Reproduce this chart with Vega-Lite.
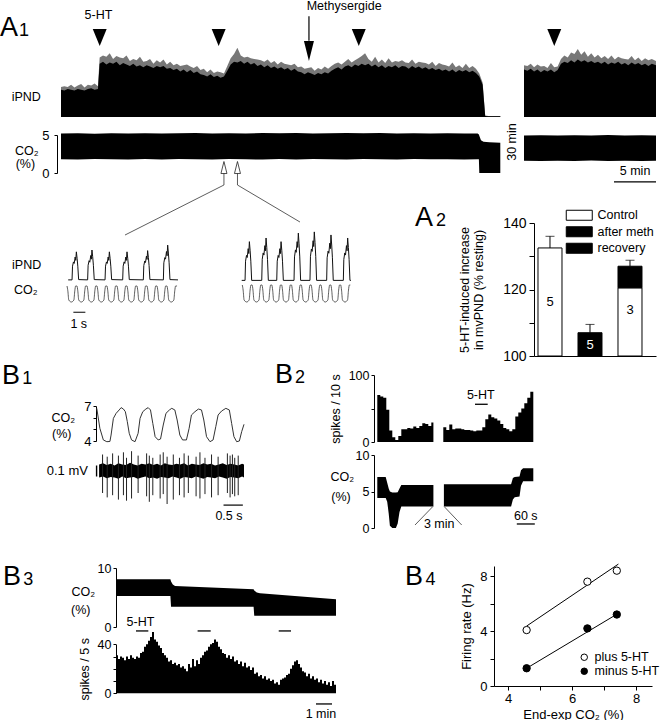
{
"$schema":"https://vega.github.io/schema/vega-lite/v6.json",
"width":660,"height":720,"autosize":{"type":"none"},"padding":0,"background":"white",
"config":{"view":{"stroke":null},"font":"Liberation Sans",
"axis":{"grid":false,"domainColor":"black","tickColor":"black","labelColor":"black","titleColor":"black","labelFont":"Liberation Sans","titleFont":"Liberation Sans","titleFontWeight":"normal","labelFontSize":12.5,"titleFontSize":12.5,"tickSize":4,"labelPadding":3,"domainWidth":1,"tickWidth":1,"labelOverlap":false},
"legend":{"labelFont":"Liberation Sans","labelColor":"black","labelFontSize":12.5},
"text":{"font":"Liberation Sans","fontSize":12.5,"color":"black"}},
"resolve":{"scale":{"x":"independent","y":"independent","fill":"independent"},"axis":{"x":"independent","y":"independent"},"legend":{"fill":"independent"}},
"datasets":{
"ipnd1":[{"t":0,"b":3.9,"v":4.3},{"t":0.4,"b":3.8,"v":4.4},{"t":0.8,"b":4.0,"v":4.3},{"t":1.2,"b":3.9,"v":4.6},{"t":1.6,"b":3.8,"v":4.2},{"t":2.0,"b":4.0,"v":4.5},{"t":2.4,"b":3.9,"v":4.7},{"t":2.8,"b":3.8,"v":4.2},{"t":3.2,"b":4.0,"v":4.6},{"t":3.6,"b":4.1,"v":4.5},{"t":4.0,"b":3.9,"v":4.8},{"t":4.4,"b":4.0,"v":4.4},{"t":4.6,"b":7.6,"v":8.5},{"t":5.0,"b":7.9,"v":8.8},{"t":5.4,"b":7.5,"v":8.6},{"t":5.8,"b":7.8,"v":9.1},{"t":6.2,"b":7.6,"v":8.3},{"t":6.6,"b":7.9,"v":8.7},{"t":7.0,"b":7.4,"v":8.5},{"t":7.4,"b":7.7,"v":8.4},{"t":7.8,"b":7.5,"v":8.8},{"t":8.2,"b":7.3,"v":8.0},{"t":8.6,"b":7.6,"v":8.3},{"t":9.0,"b":7.2,"v":8.1},{"t":9.4,"b":7.4,"v":8.6},{"t":9.8,"b":7.1,"v":7.9},{"t":10.2,"b":7.4,"v":8.0},{"t":10.6,"b":7.2,"v":8.3},{"t":11.0,"b":7.0,"v":7.6},{"t":11.4,"b":7.3,"v":8.1},{"t":11.8,"b":7.1,"v":7.8},{"t":12.2,"b":7.3,"v":8.2},{"t":12.6,"b":6.9,"v":7.5},{"t":13.0,"b":7.0,"v":7.9},{"t":13.4,"b":6.7,"v":7.4},{"t":13.8,"b":6.9,"v":7.6},{"t":14.2,"b":6.5,"v":7.3},{"t":14.6,"b":6.8,"v":7.4},{"t":15.0,"b":6.4,"v":7.5},{"t":15.4,"b":6.7,"v":7.2},{"t":15.8,"b":6.3,"v":7.0},{"t":16.2,"b":6.5,"v":7.3},{"t":16.6,"b":6.1,"v":6.7},{"t":17.0,"b":6.0,"v":6.9},{"t":17.4,"b":5.8,"v":6.4},{"t":17.8,"b":6.1,"v":6.8},{"t":18.2,"b":5.7,"v":6.3},{"t":18.6,"b":5.9,"v":6.5},{"t":19.0,"b":5.6,"v":6.4},{"t":19.4,"b":5.8,"v":6.2},{"t":19.8,"b":6.6,"v":7.3},{"t":20.2,"b":7.5,"v":8.4},{"t":20.6,"b":7.9,"v":9.0},{"t":21.0,"b":7.8,"v":9.9},{"t":21.4,"b":8.0,"v":8.8},{"t":21.8,"b":7.6,"v":8.5},{"t":22.2,"b":7.9,"v":8.6},{"t":22.6,"b":7.5,"v":8.4},{"t":23.0,"b":7.7,"v":8.3},{"t":23.4,"b":7.3,"v":8.2},{"t":23.8,"b":7.5,"v":8.1},{"t":24.2,"b":7.1,"v":7.9},{"t":24.6,"b":7.4,"v":8.2},{"t":25.0,"b":7.0,"v":7.7},{"t":25.4,"b":7.2,"v":8.0},{"t":25.8,"b":6.9,"v":7.5},{"t":26.2,"b":7.1,"v":7.9},{"t":26.6,"b":6.8,"v":7.6},{"t":27.0,"b":7.0,"v":7.5},{"t":27.4,"b":6.6,"v":7.4},{"t":27.8,"b":6.9,"v":7.6},{"t":28.2,"b":6.5,"v":7.1},{"t":28.6,"b":6.4,"v":7.2},{"t":29.0,"b":6.1,"v":6.9},{"t":29.4,"b":6.4,"v":7.0},{"t":29.8,"b":6.2,"v":7.1},{"t":30.2,"b":6.0,"v":6.6},{"t":30.6,"b":6.3,"v":7.0},{"t":31.0,"b":6.1,"v":6.8},{"t":31.4,"b":6.4,"v":7.2},{"t":31.8,"b":6.2,"v":6.9},{"t":32.2,"b":6.6,"v":7.3},{"t":32.6,"b":6.9,"v":7.6},{"t":33.0,"b":7.1,"v":7.8},{"t":33.4,"b":6.8,"v":7.5},{"t":33.8,"b":7.2,"v":7.9},{"t":34.2,"b":7.4,"v":8.3},{"t":34.6,"b":7.1,"v":7.8},{"t":35.0,"b":7.5,"v":8.1},{"t":35.4,"b":7.3,"v":8.4},{"t":35.8,"b":7.6,"v":8.7},{"t":36.2,"b":7.4,"v":9.1},{"t":36.6,"b":7.6,"v":8.3},{"t":37.0,"b":7.2,"v":7.9},{"t":37.4,"b":7.5,"v":8.6},{"t":37.8,"b":7.1,"v":7.8},{"t":38.2,"b":7.4,"v":8.2},{"t":38.6,"b":7.0,"v":7.7},{"t":39.0,"b":7.3,"v":8.4},{"t":39.4,"b":7.1,"v":7.8},{"t":39.8,"b":7.4,"v":8.0},{"t":40.2,"b":7.0,"v":7.9},{"t":40.6,"b":7.3,"v":8.1},{"t":41.0,"b":7.2,"v":7.8},{"t":41.4,"b":6.9,"v":7.7},{"t":41.8,"b":7.3,"v":8.2},{"t":42.2,"b":7.0,"v":7.6},{"t":42.6,"b":7.2,"v":7.9},{"t":43.0,"b":6.9,"v":7.8},{"t":43.4,"b":7.1,"v":7.7},{"t":43.8,"b":6.8,"v":7.5},{"t":44.2,"b":7.0,"v":7.9},{"t":44.6,"b":6.7,"v":7.3},{"t":45.0,"b":6.9,"v":7.7},{"t":45.4,"b":6.6,"v":7.5},{"t":45.8,"b":6.8,"v":7.4},{"t":46.2,"b":6.5,"v":7.2},{"t":46.6,"b":6.8,"v":7.8},{"t":47.0,"b":6.4,"v":7.1},{"t":47.4,"b":6.7,"v":7.4},{"t":47.8,"b":6.5,"v":7.0},{"t":48.2,"b":6.7,"v":7.6},{"t":48.6,"b":6.4,"v":7.0},{"t":49.0,"b":6.6,"v":7.3},{"t":49.4,"b":6.3,"v":6.9},{"t":49.8,"b":5.8,"v":6.2},{"t":50.2,"b":4.6,"v":4.9},{"t":50.5,"b":0.15,"v":0.2},{"t":50.9,"b":0.12,"v":0.15},{"t":51.6,"b":0.12,"v":0.15},{"t":52.3,"b":0.12,"v":0.15}],
"co2a":[{"t":0,"w":1.82,"v":5.2},{"t":2,"w":1.78,"v":5.22},{"t":4,"w":1.84,"v":5.18},{"t":6,"w":1.8,"v":5.23},{"t":8,"w":1.76,"v":5.2},{"t":10,"w":1.83,"v":5.24},{"t":12,"w":1.79,"v":5.19},{"t":14,"w":1.85,"v":5.22},{"t":16,"w":1.8,"v":5.25},{"t":18,"w":1.77,"v":5.2},{"t":20,"w":1.84,"v":5.24},{"t":22,"w":1.8,"v":5.21},{"t":24,"w":1.78,"v":5.26},{"t":26,"w":1.83,"v":5.22},{"t":28,"w":1.79,"v":5.25},{"t":30,"w":1.84,"v":5.2},{"t":32,"w":1.8,"v":5.23},{"t":34,"w":1.77,"v":5.26},{"t":36,"w":1.83,"v":5.22},{"t":38,"w":1.8,"v":5.25},{"t":40,"w":1.78,"v":5.21},{"t":42,"w":1.84,"v":5.24},{"t":44,"w":1.8,"v":5.2},{"t":46,"w":1.82,"v":5.23},{"t":48,"w":1.79,"v":5.19},{"t":49.6,"w":1.82,"v":5.2},{"t":49.75,"w":1.8,"v":5.05},{"t":49.8,"w":0,"v":4.9},{"t":50.0,"w":0,"v":4.3},{"t":50.3,"w":0,"v":4.12},{"t":51,"w":0,"v":4.05},{"t":52.3,"w":0,"v":3.98}],
"ipnd2":[{"t":0,"b":6.8,"v":7.4},{"t":0.4,"b":6.6,"v":7.3},{"t":0.8,"b":6.9,"v":7.6},{"t":1.2,"b":6.5,"v":7.1},{"t":1.6,"b":6.8,"v":7.5},{"t":2.0,"b":6.4,"v":7.2},{"t":2.4,"b":6.7,"v":7.3},{"t":2.8,"b":6.5,"v":7.0},{"t":3.2,"b":6.8,"v":7.7},{"t":3.6,"b":6.4,"v":7.1},{"t":4.0,"b":6.7,"v":7.2},{"t":4.4,"b":7.6,"v":8.3},{"t":4.8,"b":7.9,"v":8.8},{"t":5.2,"b":7.7,"v":8.5},{"t":5.6,"b":8.1,"v":9.2},{"t":6.0,"b":7.8,"v":9.0},{"t":6.4,"b":8.2,"v":9.7},{"t":6.8,"b":7.9,"v":8.9},{"t":7.2,"b":8.1,"v":9.4},{"t":7.6,"b":7.8,"v":8.6},{"t":8.0,"b":8.0,"v":9.1},{"t":8.4,"b":7.7,"v":8.5},{"t":8.8,"b":7.9,"v":8.9},{"t":9.2,"b":7.6,"v":8.4},{"t":9.6,"b":7.9,"v":8.7},{"t":10.0,"b":7.5,"v":8.3},{"t":10.4,"b":7.8,"v":8.8},{"t":10.8,"b":7.6,"v":8.2},{"t":11.2,"b":7.9,"v":8.6},{"t":11.6,"b":7.5,"v":8.4},{"t":12.0,"b":7.7,"v":8.3},{"t":12.4,"b":7.4,"v":8.2},{"t":12.8,"b":7.8,"v":8.7},{"t":13.2,"b":7.5,"v":8.1},{"t":13.6,"b":7.7,"v":8.5},{"t":14.0,"b":7.4,"v":8.0},{"t":14.4,"b":7.6,"v":8.4},{"t":14.8,"b":7.3,"v":8.1},{"t":15.2,"b":7.6,"v":8.3},{"t":15.7,"b":7.4,"v":8.0}],
"co2b":[{"t":0,"w":1.6,"v":4.95},{"t":2,"w":1.57,"v":4.98},{"t":4,"w":1.62,"v":4.93},{"t":6,"w":1.58,"v":4.97},{"t":8,"w":1.63,"v":4.95},{"t":10,"w":1.59,"v":4.99},{"t":12,"w":1.61,"v":4.94},{"t":14,"w":1.57,"v":4.97},{"t":15.7,"w":1.6,"v":4.95}],
"in1p":[{"t":0.1,"v":0.02},{"t":0.42,"v":0.02},{"t":0.46,"v":0.47},{"t":0.54,"v":0.61},{"t":0.6,"v":0.56},{"t":0.68,"v":0.77},{"t":0.73,"v":0.66},{"t":0.78,"v":0.94},{"t":0.84,"v":0.73},{"t":0.9,"v":0.47},{"t":0.97,"v":0.03},{"t":1.72,"v":0.02},{"t":1.76,"v":0.5},{"t":1.84,"v":0.65},{"t":1.9,"v":0.6},{"t":1.98,"v":0.82},{"t":2.03,"v":0.7},{"t":2.08,"v":1.0},{"t":2.14,"v":0.78},{"t":2.2,"v":0.5},{"t":2.27,"v":0.03},{"t":3.17,"v":0.02},{"t":3.21,"v":0.47},{"t":3.29,"v":0.61},{"t":3.35,"v":0.56},{"t":3.43,"v":0.77},{"t":3.48,"v":0.66},{"t":3.53,"v":0.94},{"t":3.59,"v":0.73},{"t":3.65,"v":0.47},{"t":3.72,"v":0.03},{"t":4.64,"v":0.02},{"t":4.68,"v":0.47},{"t":4.76,"v":0.61},{"t":4.82,"v":0.56},{"t":4.9,"v":0.77},{"t":4.95,"v":0.66},{"t":5.0,"v":0.94},{"t":5.06,"v":0.73},{"t":5.12,"v":0.47},{"t":5.19,"v":0.03},{"t":6.36,"v":0.02},{"t":6.4,"v":0.49},{"t":6.48,"v":0.64},{"t":6.54,"v":0.59},{"t":6.62,"v":0.8},{"t":6.67,"v":0.69},{"t":6.72,"v":0.98},{"t":6.78,"v":0.76},{"t":6.84,"v":0.49},{"t":6.91,"v":0.03},{"t":8.03,"v":0.02},{"t":8.07,"v":0.58},{"t":8.15,"v":0.75},{"t":8.21,"v":0.7},{"t":8.29,"v":0.95},{"t":8.34,"v":0.81},{"t":8.39,"v":1.16},{"t":8.45,"v":0.9},{"t":8.51,"v":0.58},{"t":8.58,"v":0.03},{"t":9.25,"v":0.02}],
"in1c":[{"t":0,"v":1},{"t":0.07,"v":0.7},{"t":0.15,"v":0.12},{"t":0.36,"v":0},{"t":0.57,"v":0.12},{"t":0.65,"v":0.7},{"t":0.72,"v":1},{"t":0.83,"v":1},{"t":0.9,"v":0.7},{"t":0.98,"v":0.12},{"t":1.19,"v":0},{"t":1.4,"v":0.12},{"t":1.48,"v":0.7},{"t":1.55,"v":1},{"t":1.67,"v":1},{"t":1.74,"v":0.7},{"t":1.82,"v":0.12},{"t":2.03,"v":0},{"t":2.24,"v":0.12},{"t":2.32,"v":0.7},{"t":2.39,"v":1},{"t":2.5,"v":1},{"t":2.57,"v":0.7},{"t":2.65,"v":0.12},{"t":2.86,"v":0},{"t":3.07,"v":0.12},{"t":3.15,"v":0.7},{"t":3.22,"v":1},{"t":3.33,"v":1},{"t":3.4,"v":0.7},{"t":3.48,"v":0.12},{"t":3.69,"v":0},{"t":3.9,"v":0.12},{"t":3.98,"v":0.7},{"t":4.05,"v":1},{"t":4.17,"v":1},{"t":4.24,"v":0.7},{"t":4.32,"v":0.12},{"t":4.53,"v":0},{"t":4.74,"v":0.12},{"t":4.82,"v":0.7},{"t":4.89,"v":1},{"t":5.0,"v":1},{"t":5.07,"v":0.7},{"t":5.15,"v":0.12},{"t":5.36,"v":0},{"t":5.57,"v":0.12},{"t":5.65,"v":0.7},{"t":5.72,"v":1},{"t":5.83,"v":1},{"t":5.9,"v":0.7},{"t":5.98,"v":0.12},{"t":6.19,"v":0},{"t":6.4,"v":0.12},{"t":6.48,"v":0.7},{"t":6.55,"v":1},{"t":6.67,"v":1},{"t":6.74,"v":0.7},{"t":6.82,"v":0.12},{"t":7.03,"v":0},{"t":7.24,"v":0.12},{"t":7.32,"v":0.7},{"t":7.39,"v":1},{"t":7.5,"v":1},{"t":7.57,"v":0.7},{"t":7.65,"v":0.12},{"t":7.86,"v":0},{"t":8.07,"v":0.12},{"t":8.15,"v":0.7},{"t":8.22,"v":1},{"t":8.33,"v":1},{"t":8.4,"v":0.7},{"t":8.48,"v":0.12},{"t":8.69,"v":0},{"t":8.9,"v":0.12},{"t":8.98,"v":0.7},{"t":9.05,"v":1},{"t":9.17,"v":1}],
"in2p":[{"t":0,"v":0.02},{"t":0.28,"v":0.02},{"t":0.32,"v":0.65},{"t":0.4,"v":0.84},{"t":0.46,"v":0.77},{"t":0.54,"v":1.06},{"t":0.59,"v":0.9},{"t":0.64,"v":1.29},{"t":0.7,"v":1.01},{"t":0.76,"v":0.65},{"t":0.83,"v":0.02},{"t":1.67,"v":0.02},{"t":1.71,"v":0.71},{"t":1.79,"v":0.92},{"t":1.85,"v":0.85},{"t":1.93,"v":1.16},{"t":1.98,"v":0.99},{"t":2.03,"v":1.41},{"t":2.09,"v":1.1},{"t":2.15,"v":0.71},{"t":2.22,"v":0.02},{"t":2.92,"v":0.02},{"t":2.96,"v":0.65},{"t":3.04,"v":0.84},{"t":3.1,"v":0.77},{"t":3.18,"v":1.06},{"t":3.23,"v":0.9},{"t":3.28,"v":1.29},{"t":3.34,"v":1.01},{"t":3.4,"v":0.65},{"t":3.47,"v":0.02},{"t":4.36,"v":0.02},{"t":4.4,"v":0.79},{"t":4.48,"v":1.02},{"t":4.54,"v":0.94},{"t":4.62,"v":1.29},{"t":4.67,"v":1.1},{"t":4.72,"v":1.57},{"t":4.78,"v":1.22},{"t":4.84,"v":0.79},{"t":4.91,"v":0.02},{"t":5.69,"v":0.02},{"t":5.73,"v":0.81},{"t":5.81,"v":1.05},{"t":5.87,"v":0.97},{"t":5.95,"v":1.32},{"t":6.0,"v":1.13},{"t":6.05,"v":1.61},{"t":6.11,"v":1.26},{"t":6.17,"v":0.81},{"t":6.24,"v":0.02},{"t":7.08,"v":0.02},{"t":7.12,"v":0.76},{"t":7.2,"v":0.98},{"t":7.26,"v":0.91},{"t":7.34,"v":1.24},{"t":7.39,"v":1.06},{"t":7.44,"v":1.51},{"t":7.5,"v":1.18},{"t":7.56,"v":0.76},{"t":7.63,"v":0.02},{"t":8.47,"v":0.02},{"t":8.51,"v":0.71},{"t":8.59,"v":0.92},{"t":8.65,"v":0.85},{"t":8.73,"v":1.16},{"t":8.78,"v":0.99},{"t":8.83,"v":1.41},{"t":8.89,"v":1.1},{"t":8.95,"v":0.71},{"t":9.02,"v":0.02},{"t":9.1,"v":0.02}],
"in2c":[{"t":0.05,"v":1},{"t":0.12,"v":0.7},{"t":0.2,"v":0.12},{"t":0.41,"v":0},{"t":0.62,"v":0.12},{"t":0.7,"v":0.7},{"t":0.77,"v":1},{"t":0.87,"v":1},{"t":0.94,"v":0.7},{"t":1.02,"v":0.12},{"t":1.23,"v":0},{"t":1.44,"v":0.12},{"t":1.52,"v":0.7},{"t":1.59,"v":1},{"t":1.69,"v":1},{"t":1.76,"v":0.7},{"t":1.84,"v":0.12},{"t":2.05,"v":0},{"t":2.26,"v":0.12},{"t":2.34,"v":0.7},{"t":2.41,"v":1},{"t":2.51,"v":1},{"t":2.58,"v":0.7},{"t":2.66,"v":0.12},{"t":2.87,"v":0},{"t":3.08,"v":0.12},{"t":3.16,"v":0.7},{"t":3.23,"v":1},{"t":3.33,"v":1},{"t":3.4,"v":0.7},{"t":3.48,"v":0.12},{"t":3.69,"v":0},{"t":3.9,"v":0.12},{"t":3.98,"v":0.7},{"t":4.05,"v":1},{"t":4.15,"v":1},{"t":4.22,"v":0.7},{"t":4.3,"v":0.12},{"t":4.51,"v":0},{"t":4.72,"v":0.12},{"t":4.8,"v":0.7},{"t":4.87,"v":1},{"t":4.97,"v":1},{"t":5.04,"v":0.7},{"t":5.12,"v":0.12},{"t":5.33,"v":0},{"t":5.54,"v":0.12},{"t":5.62,"v":0.7},{"t":5.69,"v":1},{"t":5.79,"v":1},{"t":5.86,"v":0.7},{"t":5.94,"v":0.12},{"t":6.15,"v":0},{"t":6.36,"v":0.12},{"t":6.44,"v":0.7},{"t":6.51,"v":1},{"t":6.61,"v":1},{"t":6.68,"v":0.7},{"t":6.76,"v":0.12},{"t":6.97,"v":0},{"t":7.18,"v":0.12},{"t":7.26,"v":0.7},{"t":7.33,"v":1},{"t":7.43,"v":1},{"t":7.5,"v":0.7},{"t":7.58,"v":0.12},{"t":7.79,"v":0},{"t":8.0,"v":0.12},{"t":8.08,"v":0.7},{"t":8.15,"v":1},{"t":8.25,"v":1},{"t":8.32,"v":0.7},{"t":8.4,"v":0.12},{"t":8.61,"v":0},{"t":8.82,"v":0.12},{"t":8.9,"v":0.7},{"t":8.97,"v":1},{"t":9.05,"v":1}],
"a2bars":[{"c":"Control","s":"Control","w":100,"v":132.5},{"c":"after meth","s":"after meth","w":100,"v":107},{"c":"recovery","s":"Control","w":100,"v":120.5},{"c":"recovery","s":"recovery","w":120.5,"v":127}],
"a2err":[{"c":"Control","v":132.5,"e":136},{"c":"after meth","v":107,"e":109.5},{"c":"recovery","v":127,"e":128.8}],
"b1co2":[{"t":0.02,"v":6.8},{"t":0.1,"v":5.09},{"t":0.19,"v":4.09},{"t":0.28,"v":3.94},{"t":0.36,"v":3.96},{"t":0.39,"v":4.51},{"t":0.45,"v":5.94},{"t":0.52,"v":6.37},{"t":0.6,"v":6.66},{"t":0.65,"v":6.86},{"t":0.71,"v":6.74},{"t":0.76,"v":6.51},{"t":0.81,"v":5.66},{"t":0.86,"v":4.66},{"t":0.92,"v":4.09},{"t":1.01,"v":3.94},{"t":1.09,"v":4.66},{"t":1.14,"v":5.94},{"t":1.21,"v":6.51},{"t":1.29,"v":6.74},{"t":1.35,"v":6.86},{"t":1.41,"v":6.66},{"t":1.47,"v":5.51},{"t":1.53,"v":4.37},{"t":1.61,"v":4.09},{"t":1.67,"v":4.17},{"t":1.74,"v":5.37},{"t":1.81,"v":6.37},{"t":1.9,"v":6.66},{"t":1.96,"v":6.8},{"t":2.04,"v":6.66},{"t":2.1,"v":5.8},{"t":2.17,"v":4.51},{"t":2.24,"v":4.09},{"t":2.34,"v":4.09},{"t":2.41,"v":5.09},{"t":2.47,"v":6.23},{"t":2.56,"v":6.51},{"t":2.65,"v":6.74},{"t":2.73,"v":6.66},{"t":2.79,"v":5.8},{"t":2.86,"v":4.37},{"t":2.95,"v":3.94},{"t":3.03,"v":4.09},{"t":3.1,"v":5.23},{"t":3.16,"v":6.23},{"t":3.25,"v":6.57},{"t":3.36,"v":6.8},{"t":3.45,"v":6.66},{"t":3.51,"v":5.51},{"t":3.57,"v":4.37},{"t":3.64,"v":3.94},{"t":3.71,"v":4.0},{"t":3.77,"v":4.8},{"t":3.83,"v":5.43}],
"b1band":[{"t":0.08,"v":0.06,"w":-0.06},{"t":0.18,"v":0.07,"w":-0.05},{"t":0.28,"v":0.055,"w":-0.065},{"t":0.38,"v":0.065,"w":-0.055},{"t":0.48,"v":0.05,"w":-0.06},{"t":0.58,"v":0.07,"w":-0.07},{"t":0.68,"v":0.06,"w":-0.05},{"t":0.78,"v":0.055,"w":-0.065},{"t":0.88,"v":0.075,"w":-0.06},{"t":0.98,"v":0.06,"w":-0.055},{"t":1.08,"v":0.05,"w":-0.07},{"t":1.18,"v":0.065,"w":-0.06},{"t":1.28,"v":0.06,"w":-0.05},{"t":1.38,"v":0.07,"w":-0.065},{"t":1.48,"v":0.055,"w":-0.06},{"t":1.58,"v":0.065,"w":-0.07},{"t":1.68,"v":0.05,"w":-0.055},{"t":1.78,"v":0.07,"w":-0.06},{"t":1.88,"v":0.06,"w":-0.065},{"t":1.98,"v":0.055,"w":-0.05},{"t":2.08,"v":0.065,"w":-0.06},{"t":2.18,"v":0.06,"w":-0.07},{"t":2.28,"v":0.07,"w":-0.055},{"t":2.38,"v":0.05,"w":-0.06},{"t":2.48,"v":0.065,"w":-0.065},{"t":2.58,"v":0.06,"w":-0.05},{"t":2.68,"v":0.055,"w":-0.06},{"t":2.78,"v":0.07,"w":-0.07},{"t":2.88,"v":0.06,"w":-0.055},{"t":2.98,"v":0.065,"w":-0.06},{"t":3.08,"v":0.05,"w":-0.065},{"t":3.18,"v":0.06,"w":-0.05},{"t":3.28,"v":0.07,"w":-0.06},{"t":3.38,"v":0.055,"w":-0.07},{"t":3.48,"v":0.065,"w":-0.055},{"t":3.58,"v":0.06,"w":-0.06},{"t":3.68,"v":0.05,"w":-0.065},{"t":3.78,"v":0.065,"w":-0.05},{"t":3.83,"v":0.06,"w":-0.06}],
"b1spk":[{"t":0.17,"v":0.15,"w":-0.2},{"t":0.29,"v":0.13,"w":-0.24},{"t":0.43,"v":0.16,"w":-0.22},{"t":0.58,"v":0.14,"w":-0.26},{"t":0.71,"v":0.17,"w":-0.22},{"t":0.79,"v":0.12,"w":-0.27},{"t":0.92,"v":0.18,"w":-0.25},{"t":1.09,"v":0.14,"w":-0.2},{"t":1.31,"v":0.16,"w":-0.23},{"t":1.38,"v":0.14,"w":-0.28},{"t":1.47,"v":0.12,"w":-0.22},{"t":1.66,"v":0.15,"w":-0.25},{"t":1.74,"v":0.17,"w":-0.21},{"t":1.84,"v":0.13,"w":-0.3},{"t":2.0,"v":0.15,"w":-0.26},{"t":2.16,"v":0.12,"w":-0.22},{"t":2.28,"v":0.16,"w":-0.24},{"t":2.39,"v":0.14,"w":-0.2},{"t":2.59,"v":0.13,"w":-0.23},{"t":2.69,"v":0.17,"w":-0.25},{"t":2.82,"v":0.12,"w":-0.21},{"t":2.99,"v":0.15,"w":-0.24},{"t":3.16,"v":0.13,"w":-0.22},{"t":3.4,"v":0.16,"w":-0.2},{"t":3.47,"v":0.14,"w":-0.24},{"t":3.53,"v":0.15,"w":-0.21},{"t":3.59,"v":0.12,"w":-0.23},{"t":3.68,"v":0.14,"w":-0.22}],
"b2spk":[{"g":1,"t":0,"v":70},{"g":1,"t":10,"v":68},{"g":1,"t":20,"v":66},{"g":1,"t":30,"v":48},{"g":1,"t":40,"v":17},{"g":1,"t":50,"v":7},{"g":1,"t":60,"v":3},{"g":1,"t":70,"v":9},{"g":1,"t":80,"v":19},{"g":1,"t":90,"v":19},{"g":1,"t":100,"v":21},{"g":1,"t":110,"v":20},{"g":1,"t":120,"v":23},{"g":1,"t":130,"v":21},{"g":1,"t":140,"v":24},{"g":1,"t":150,"v":28},{"g":1,"t":160,"v":27},{"g":1,"t":170,"v":24},{"g":1,"t":180,"v":29},{"g":1,"t":187,"v":29},{"g":2,"t":220,"v":22},{"g":2,"t":230,"v":18},{"g":2,"t":240,"v":26},{"g":2,"t":250,"v":19},{"g":2,"t":260,"v":20},{"g":2,"t":270,"v":20},{"g":2,"t":280,"v":19},{"g":2,"t":290,"v":18},{"g":2,"t":300,"v":18},{"g":2,"t":310,"v":17},{"g":2,"t":320,"v":16},{"g":2,"t":330,"v":17},{"g":2,"t":340,"v":17},{"g":2,"t":350,"v":22},{"g":2,"t":360,"v":34},{"g":2,"t":370,"v":41},{"g":2,"t":380,"v":37},{"g":2,"t":390,"v":35},{"g":2,"t":400,"v":32},{"g":2,"t":410,"v":27},{"g":2,"t":420,"v":21},{"g":2,"t":430,"v":19},{"g":2,"t":440,"v":16},{"g":2,"t":450,"v":19},{"g":2,"t":460,"v":38},{"g":2,"t":470,"v":44},{"g":2,"t":480,"v":50},{"g":2,"t":490,"v":58},{"g":2,"t":500,"v":66},{"g":2,"t":510,"v":75},{"g":2,"t":520,"v":75}],
"b2co2":[{"g":1,"t":0,"w":4.1,"v":7.0},{"g":1,"t":28,"w":4.1,"v":7.0},{"g":1,"t":33,"w":3.6,"v":6.2},{"g":1,"t":38,"w":2.0,"v":5.4},{"g":1,"t":42,"w":0.3,"v":5.0},{"g":1,"t":50,"w":0,"v":4.85},{"g":1,"t":62,"w":0,"v":4.85},{"g":1,"t":68,"w":0.6,"v":4.9},{"g":1,"t":74,"w":2.2,"v":5.4},{"g":1,"t":80,"w":2.95,"v":5.9},{"g":1,"t":187,"w":2.95,"v":5.9},{"g":2,"t":222,"w":2.95,"v":6.0},{"g":2,"t":446,"w":2.95,"v":6.0},{"g":2,"t":452,"w":3.9,"v":6.85},{"g":2,"t":458,"w":4.2,"v":7.0},{"g":2,"t":474,"w":4.3,"v":7.05},{"g":2,"t":479,"w":5.8,"v":7.9},{"g":2,"t":486,"w":6.4,"v":8.2},{"g":2,"t":520,"w":6.4,"v":8.2}],
"b3co2":[{"t":0,"w":5.25,"v":8.08},{"t":3.4,"w":5.25,"v":8.08},{"t":3.44,"w":3.44,"v":7.7},{"t":3.55,"w":3.44,"v":7.2},{"t":3.69,"w":3.44,"v":6.95},{"t":8.6,"w":3.44,"v":6.39},{"t":8.64,"w":1.92,"v":6.2},{"t":8.8,"w":1.92,"v":5.85},{"t":9.0,"w":1.92,"v":5.7},{"t":13.75,"w":1.92,"v":4.7}],
"b3spk":[{"t":0,"v":31},{"t":0.125,"v":28},{"t":0.25,"v":30},{"t":0.375,"v":29},{"t":0.5,"v":27},{"t":0.625,"v":30},{"t":0.75,"v":28},{"t":0.875,"v":31},{"t":1.0,"v":29},{"t":1.125,"v":28},{"t":1.25,"v":30},{"t":1.375,"v":29},{"t":1.5,"v":33},{"t":1.625,"v":34},{"t":1.75,"v":38},{"t":1.875,"v":40},{"t":2.0,"v":43},{"t":2.125,"v":46},{"t":2.25,"v":50},{"t":2.375,"v":44},{"t":2.5,"v":42},{"t":2.625,"v":39},{"t":2.75,"v":37},{"t":2.875,"v":33},{"t":3.0,"v":31},{"t":3.125,"v":29},{"t":3.25,"v":26},{"t":3.375,"v":27},{"t":3.5,"v":24},{"t":3.625,"v":25},{"t":3.75,"v":23},{"t":3.875,"v":24},{"t":4.0,"v":21},{"t":4.125,"v":22},{"t":4.25,"v":20},{"t":4.375,"v":18},{"t":4.5,"v":24},{"t":4.625,"v":21},{"t":4.75,"v":28},{"t":4.875,"v":22},{"t":5.0,"v":27},{"t":5.125,"v":24},{"t":5.25,"v":29},{"t":5.375,"v":31},{"t":5.5,"v":34},{"t":5.625,"v":35},{"t":5.75,"v":38},{"t":5.875,"v":40},{"t":6.0,"v":41},{"t":6.125,"v":44},{"t":6.25,"v":42},{"t":6.375,"v":38},{"t":6.5,"v":36},{"t":6.625,"v":33},{"t":6.75,"v":32},{"t":6.875,"v":29},{"t":7.0,"v":31},{"t":7.125,"v":28},{"t":7.25,"v":30},{"t":7.375,"v":26},{"t":7.5,"v":27},{"t":7.625,"v":24},{"t":7.75,"v":26},{"t":7.875,"v":22},{"t":8.0,"v":25},{"t":8.125,"v":21},{"t":8.25,"v":22},{"t":8.375,"v":19},{"t":8.5,"v":21},{"t":8.625,"v":16},{"t":8.75,"v":17},{"t":8.875,"v":14},{"t":9.0,"v":15},{"t":9.125,"v":12},{"t":9.25,"v":14},{"t":9.375,"v":11},{"t":9.5,"v":12},{"t":9.625,"v":10},{"t":9.75,"v":11},{"t":9.875,"v":8},{"t":10.0,"v":9},{"t":10.125,"v":7},{"t":10.25,"v":11},{"t":10.375,"v":12},{"t":10.5,"v":13},{"t":10.625,"v":15},{"t":10.75,"v":16},{"t":10.875,"v":20},{"t":11.0,"v":23},{"t":11.125,"v":26},{"t":11.25,"v":27},{"t":11.375,"v":24},{"t":11.5,"v":21},{"t":11.625,"v":18},{"t":11.75,"v":17},{"t":11.875,"v":14},{"t":12.0,"v":16},{"t":12.125,"v":12},{"t":12.25,"v":14},{"t":12.375,"v":11},{"t":12.5,"v":12},{"t":12.625,"v":9},{"t":12.75,"v":11},{"t":12.875,"v":8},{"t":13.0,"v":10},{"t":13.125,"v":7},{"t":13.25,"v":9},{"t":13.375,"v":6},{"t":13.5,"v":10},{"t":13.625,"v":7},{"t":13.75,"v":7}],
"b4pts":[{"s":"plus 5-HT","t":4.58,"v":4.07},{"s":"plus 5-HT","t":6.48,"v":7.59},{"s":"plus 5-HT","t":7.4,"v":8.39},{"s":"minus 5-HT","t":4.58,"v":1.29},{"s":"minus 5-HT","t":6.48,"v":4.19},{"s":"minus 5-HT","t":7.4,"v":5.2}],
"b4fit":[{"s":"plus 5-HT","t":4.58,"v":4.36},{"s":"plus 5-HT","t":7.45,"v":8.87},{"s":"minus 5-HT","t":4.58,"v":1.29},{"s":"minus 5-HT","t":7.45,"v":5.29}]
},
"layer":[
{"data":{"name":"ipnd1"},
 "encoding":{"x":{"field":"t","type":"quantitative","scale":{"domain":[0,52.3],"range":[61,500.3],"nice":false,"zero":false},"axis":null},
  "y":{"field":"v","type":"quantitative","scale":{"domain":[0,10],"range":[117,47],"nice":false,"zero":false},"axis":null}},
 "layer":[
  {"mark":{"type":"area","color":"#777777"},"encoding":{"y2":{"datum":0}}},
  {"mark":{"type":"area","color":"black"},"encoding":{"y":{"field":"b","type":"quantitative","axis":null},"y2":{"datum":0}}},
  {"data":{"values":[{"t":4.61,"v":11.36},{"t":18.77,"v":11.36},{"t":35.45,"v":11.36}]},"mark":{"type":"point","shape":"M-0.82,-1L0.82,-1L0,1Z","size":289,"filled":true,"color":"black","opacity":1}},
  {"data":{"values":[{"t":29.52,"v":14.4,"b":10.9}]},"mark":{"type":"rule","color":"black","strokeWidth":1.2},"encoding":{"y2":{"field":"b"}}},
  {"data":{"values":[{"t":29.52,"v":9.43}]},"mark":{"type":"point","shape":"M-0.5,-1L0.5,-1L0,1Z","size":400,"filled":true,"color":"black","opacity":1}},
  {"data":{"values":[{"t":4.46,"v":14.57,"label":"5-HT"}]},"mark":{"type":"text","fontSize":12.5,"align":"center","baseline":"middle"},"encoding":{"text":{"field":"label"}}},
  {"data":{"values":[{"t":29.25,"v":15.86,"label":"Methysergide"},{"t":-5.87,"v":2.86,"label":"iPND"}]},"mark":{"type":"text","fontSize":12.5,"align":"left","baseline":"middle"},"encoding":{"text":{"field":"label"}}},
  {"data":{"values":[{"t":-7.26,"v":11.57,"label":"A"}]},"mark":{"type":"text","fontSize":27,"align":"left","baseline":"alphabetic"},"encoding":{"text":{"field":"label"}}},
  {"data":{"values":[{"t":-5.0,"v":11.57,"label":"1"}]},"mark":{"type":"text","fontSize":18,"align":"left","baseline":"alphabetic"},"encoding":{"text":{"field":"label"}}}
 ]},
{"data":{"name":"co2a"},
 "encoding":{"x":{"field":"t","type":"quantitative","scale":{"domain":[0,52.3],"range":[61,500.3],"nice":false,"zero":false},"axis":null},
  "y":{"field":"v","type":"quantitative","scale":{"domain":[0,5],"range":[173,135],"nice":false,"zero":false},"axis":{"orient":"left","offset":-57,"values":[0,5],"tickSize":3,"labelPadding":5,"labelFontSize":13,"title":null}}},
 "layer":[
  {"mark":{"type":"area","color":"black"},"encoding":{"y2":{"field":"w"}}},
  {"data":{"values":[{"t":19.4,"v":0.72},{"t":21.01,"v":0.72}]},"mark":{"type":"point","shape":"M0,-1L0.5,1L-0.5,1Z","size":144,"filled":true,"fill":"white","stroke":"#222","strokeWidth":0.8,"opacity":1}},
  {"data":{"values":[{"id":1,"k":0,"t":19.4,"v":-0.02},{"id":1,"k":1,"t":19.4,"v":-1.58},{"id":1,"k":2,"t":7.62,"v":-8.16},{"id":2,"k":0,"t":21.01,"v":-0.02},{"id":2,"k":1,"t":21.01,"v":-1.58},{"id":2,"k":2,"t":28.45,"v":-6.45}]},"mark":{"type":"line","color":"#333","strokeWidth":0.8},"encoding":{"detail":{"field":"id","type":"nominal"},"order":{"field":"k","type":"quantitative"}}},
  {"data":{"values":[{"t":-4.08,"v":2.9,"label":"CO₂"},{"t":-4.24,"v":1.18,"label":"(%)"}]},"mark":{"type":"text","fontSize":12.5},"encoding":{"text":{"field":"label"}}}
 ]},
{"data":{"name":"ipnd2"},
 "encoding":{"x":{"field":"t","type":"quantitative","scale":{"domain":[0,15.7],"range":[524,656],"nice":false,"zero":false},"axis":null},
  "y":{"field":"v","type":"quantitative","scale":{"domain":[0,10],"range":[117,47],"nice":false,"zero":false},"axis":null}},
 "layer":[
  {"mark":{"type":"area","color":"#777777"},"encoding":{"y2":{"datum":0}}},
  {"mark":{"type":"area","color":"black"},"encoding":{"y":{"field":"b","type":"quantitative","axis":null},"y2":{"datum":0}}},
  {"data":{"values":[{"t":3.6,"v":11.36}]},"mark":{"type":"point","shape":"M-0.82,-1L0.82,-1L0,1Z","size":289,"filled":true,"color":"black","opacity":1}}
 ]},
{"data":{"name":"co2b"},
 "encoding":{"x":{"field":"t","type":"quantitative","scale":{"domain":[0,15.7],"range":[524,656],"nice":false,"zero":false},"axis":null},
  "y":{"field":"v","type":"quantitative","scale":{"domain":[0,5],"range":[173,135],"nice":false,"zero":false},"axis":null}},
 "layer":[
  {"mark":{"type":"area","color":"black"},"encoding":{"y2":{"field":"w"}}},
  {"data":{"values":[{"t":-1.43,"v":4.08,"label":"30 min"}]},"mark":{"type":"text","fontSize":12.5,"angle":270},"encoding":{"text":{"field":"label"}}},
  {"data":{"values":[{"t":10.7,"e":15.7,"v":-1.18}]},"mark":{"type":"rule","color":"black","strokeWidth":1.2},"encoding":{"x2":{"field":"e"}}},
  {"data":{"values":[{"t":13.21,"v":0.2,"label":"5 min"}]},"mark":{"type":"text","fontSize":12.5},"encoding":{"text":{"field":"label"}}}
 ]},
{"data":{"name":"in1p"},
 "encoding":{"x":{"field":"t","type":"quantitative","scale":{"domain":[0,9.25],"range":[67,178],"nice":false,"zero":false},"axis":null},
  "y":{"field":"v","type":"quantitative","scale":{"domain":[0,1],"range":[280.5,250],"nice":false,"zero":false},"axis":null}},
 "layer":[
  {"mark":{"type":"line","color":"#111","strokeWidth":1}},
  {"data":{"values":[{"t":-4.58,"v":0.51,"label":"iPND"}]},"mark":{"type":"text","fontSize":12.5,"align":"left"},"encoding":{"text":{"field":"label"}}}
 ]},
{"data":{"name":"in1c"},
 "encoding":{"x":{"field":"t","type":"quantitative","scale":{"domain":[0,9.25],"range":[67,178],"nice":false,"zero":false},"axis":null},
  "y":{"field":"v","type":"quantitative","scale":{"domain":[0,1],"range":[302,286],"nice":false,"zero":false},"axis":null}},
 "layer":[
  {"mark":{"type":"line","color":"#333","strokeWidth":0.8,"interpolate":"monotone"}},
  {"data":{"values":[{"t":-4.42,"v":0.75,"label":"CO₂"}]},"mark":{"type":"text","fontSize":12.5,"align":"left"},"encoding":{"text":{"field":"label"}}},
  {"data":{"values":[{"t":0.53,"e":1.53,"v":-0.64}]},"mark":{"type":"rule","color":"black","strokeWidth":1},"encoding":{"x2":{"field":"e"}}},
  {"data":{"values":[{"t":0.98,"v":-1.38,"label":"1 s"}]},"mark":{"type":"text","fontSize":12.5},"encoding":{"text":{"field":"label"}}}
 ]},
{"data":{"name":"in2p"},
 "encoding":{"x":{"field":"t","type":"quantitative","scale":{"domain":[0,9.1],"range":[241.7,350.9],"nice":false,"zero":false},"axis":null},
  "y":{"field":"v","type":"quantitative","scale":{"domain":[0,1],"range":[281,250.5],"nice":false,"zero":false},"axis":null}},
 "layer":[{"mark":{"type":"line","color":"#111","strokeWidth":1}}]},
{"data":{"name":"in2c"},
 "encoding":{"x":{"field":"t","type":"quantitative","scale":{"domain":[0,9.1],"range":[241.7,350.9],"nice":false,"zero":false},"axis":null},
  "y":{"field":"v","type":"quantitative","scale":{"domain":[0,1],"range":[302,285],"nice":false,"zero":false},"axis":null}},
 "layer":[
  {"mark":{"type":"line","color":"#333","strokeWidth":0.8,"interpolate":"monotone"}},
  {"data":{"values":[{"t":14.44,"v":4.47,"label":"A"}]},"mark":{"type":"text","fontSize":27,"align":"left","baseline":"alphabetic"},"encoding":{"text":{"field":"label"}}},
  {"data":{"values":[{"t":16.2,"v":4.47,"label":"2"}]},"mark":{"type":"text","fontSize":18,"align":"left","baseline":"alphabetic"},"encoding":{"text":{"field":"label"}}}
 ]},
{"data":{"name":"a2bars"},
 "encoding":{"x":{"field":"c","type":"nominal","scale":{"domain":["Control","after meth","recovery"],"range":[534,656],"paddingInner":0.4,"paddingOuter":0.225,"align":0.222},"axis":null},
  "y":{"field":"v","type":"quantitative","scale":{"domain":[100,140],"range":[356,223],"nice":false,"zero":false},"axis":null}},
 "layer":[
  {"mark":{"type":"bar","stroke":"black","strokeWidth":1},"encoding":{"y2":{"field":"w"},"fill":{"field":"s","type":"nominal","scale":{"domain":["Control","after meth","recovery"],"range":["white","black","black"]},"legend":{"orient":"none","legendX":573,"legendY":209,"title":null,"symbolType":"M-2.6,-1H2.6V1H-2.6Z","symbolSize":100,"symbolStrokeColor":"black","symbolStrokeWidth":1,"labelFontSize":12.5,"rowPadding":1.5,"labelOffset":12,"padding":0}}}},
  {"data":{"name":"a2err"},"mark":{"type":"rule","color":"black","strokeWidth":1},"encoding":{"y2":{"field":"e"}}},
  {"data":{"name":"a2err"},"mark":{"type":"tick","color":"black","size":9,"thickness":1},"encoding":{"y":{"field":"e","type":"quantitative","axis":null}}},
  {"data":{"values":[{"c":"Control","v":116.2,"label":"5"},{"c":"recovery","v":113.8,"label":"3"}]},"mark":{"type":"text","fontSize":13,"color":"black"},"encoding":{"text":{"field":"label"}}},
  {"data":{"values":[{"c":"after meth","v":103.3,"label":"5"}]},"mark":{"type":"text","fontSize":13,"color":"white"},"encoding":{"text":{"field":"label"}}}
 ]},
{"data":{"name":"a2err"},
 "mark":{"type":"rule","opacity":0},
 "encoding":{"x":{"field":"c","type":"nominal","scale":{"domain":["Control","after meth","recovery"],"range":[534,656],"paddingInner":0.4,"paddingOuter":0.225,"align":0.222},"axis":{"orient":"bottom","offset":-364,"title":null,"labels":false,"ticks":false}},
  "y":{"field":"v","type":"quantitative","scale":{"domain":[100,140],"range":[356,223],"nice":false,"zero":false},"axis":{"orient":"left","offset":-534,"values":[100,110,120,130,140],"labelExpr":"datum.value % 20 === 0 ? datum.label : ''","tickSize":5,"labelFontSize":14,"labelPadding":3,"title":["5-HT-induced increase","in mvPND (% resting)"],"titleFontSize":12.5,"titlePadding":17}},
  "y2":{"field":"e"}}},
{"data":{"name":"b1co2"},
 "encoding":{"x":{"field":"t","type":"quantitative","scale":{"domain":[0,3.83],"range":[96,244],"nice":false,"zero":false},"axis":null},
  "y":{"field":"v","type":"quantitative","scale":{"domain":[4,7],"range":[441,406],"nice":false,"zero":false},"axis":{"orient":"left","offset":-96,"values":[4,5,6,7],"labelExpr":"datum.value === 4 || datum.value === 7 ? datum.label : ''","tickSize":3,"labelPadding":2,"labelFontSize":13,"title":null}}},
 "layer":[
  {"mark":{"type":"line","color":"#333","strokeWidth":1}},
  {"data":{"values":[{"t":-0.845,"v":5.97,"label":"CO₂"},{"t":-0.886,"v":4.6,"label":"(%)"}]},"mark":{"type":"text","fontSize":12.5},"encoding":{"text":{"field":"label"}}},
  {"data":{"values":[{"t":-2.43,"v":8.885,"label":"B"}]},"mark":{"type":"text","fontSize":27,"align":"left","baseline":"alphabetic"},"encoding":{"text":{"field":"label"}}},
  {"data":{"values":[{"t":-1.91,"v":8.885,"label":"1"}]},"mark":{"type":"text","fontSize":18,"align":"left","baseline":"alphabetic"},"encoding":{"text":{"field":"label"}}}
 ]},
{"data":{"name":"b1band"},
 "encoding":{"x":{"field":"t","type":"quantitative","scale":{"domain":[0,3.83],"range":[96,244],"nice":false,"zero":false},"axis":null},
  "y":{"field":"v","type":"quantitative","scale":{"domain":[-0.3,0.2],"range":[504,449],"nice":false,"zero":false},"axis":null}},
 "layer":[
  {"mark":{"type":"area","color":"black"},"encoding":{"y2":{"field":"w"}}},
  {"data":{"name":"b1spk"},"mark":{"type":"rule","color":"#222","strokeWidth":1},"encoding":{"y2":{"field":"w"}}},
  {"data":{"values":[{"t":0.015,"v":0.05,"w":-0.05}]},"mark":{"type":"rule","color":"black","strokeWidth":1.4},"encoding":{"y2":{"field":"w"}}},
  {"data":{"values":[{"t":-0.21,"v":0,"label":"0.1 mV"}]},"mark":{"type":"text","fontSize":13,"align":"right"},"encoding":{"text":{"field":"label"}}},
  {"data":{"values":[{"t":3.3,"e":3.8,"v":-0.31}]},"mark":{"type":"rule","color":"black","strokeWidth":1.2},"encoding":{"x2":{"field":"e"}}},
  {"data":{"values":[{"t":3.44,"v":-0.41,"label":"0.5 s"}]},"mark":{"type":"text","fontSize":12.5},"encoding":{"text":{"field":"label"}}}
 ]},
{"data":{"name":"b2spk"},
 "encoding":{"x":{"field":"t","type":"quantitative","scale":{"domain":[0,520],"range":[377.3,533.3],"nice":false,"zero":false},"axis":null},
  "y":{"field":"v","type":"quantitative","stack":null,"scale":{"domain":[0,100],"range":[442,375],"nice":false,"zero":false},"axis":{"orient":"left","offset":-374,"values":[0,50,100],"labelExpr":"datum.value === 50 ? '' : datum.label","tickSize":3,"labelPadding":2,"labelFontSize":12.5,"title":"spikes / 10 s","titlePadding":6}}},
 "layer":[
  {"mark":{"type":"area","color":"black","interpolate":"step-after"},"encoding":{"y2":{"datum":0},"detail":{"field":"g","type":"nominal"}}},
  {"data":{"values":[{"t":325.7,"e":368,"v":56.3}]},"mark":{"type":"rule","color":"black","strokeWidth":1.3},"encoding":{"x2":{"field":"e"}}},
  {"data":{"values":[{"t":345,"v":70,"label":"5-HT"}]},"mark":{"type":"text","fontSize":12.5},"encoding":{"text":{"field":"label"}}},
  {"data":{"values":[{"t":-341,"v":88,"label":"B"}]},"mark":{"type":"text","fontSize":27,"align":"left","baseline":"alphabetic"},"encoding":{"text":{"field":"label"}}},
  {"data":{"values":[{"t":-274,"v":88,"label":"2"}]},"mark":{"type":"text","fontSize":18,"align":"left","baseline":"alphabetic"},"encoding":{"text":{"field":"label"}}}
 ]},
{"data":{"name":"b2co2"},
 "encoding":{"x":{"field":"t","type":"quantitative","scale":{"domain":[0,520],"range":[377.3,533.3],"nice":false,"zero":false},"axis":null},
  "y":{"field":"v","type":"quantitative","stack":null,"scale":{"domain":[0,10],"range":[528,455],"nice":false,"zero":false},"axis":{"orient":"left","offset":-374,"values":[0,5,10],"tickSize":3,"labelPadding":2,"labelFontSize":12.5,"title":null}}},
 "layer":[
  {"mark":{"type":"area","color":"black"},"encoding":{"y2":{"field":"w"},"detail":{"field":"g","type":"nominal"}}},
  {"data":{"values":[{"t":-116.7,"v":7.0,"label":"CO₂"},{"t":-121,"v":4.25,"label":"(%)"}]},"mark":{"type":"text","fontSize":12.5},"encoding":{"text":{"field":"label"}}},
  {"data":{"values":[{"id":1,"t":184.7,"v":2.92},{"id":1,"t":125.7,"v":0.41},{"id":2,"t":223.3,"v":2.92},{"id":2,"t":281.3,"v":0.41}]},"mark":{"type":"line","color":"#333","strokeWidth":0.8},"encoding":{"detail":{"field":"id","type":"nominal"}}},
  {"data":{"values":[{"t":206.3,"v":0.48,"label":"3 min"},{"t":495,"v":1.64,"label":"60 s"}]},"mark":{"type":"text","fontSize":12.5},"encoding":{"text":{"field":"label"}}},
  {"data":{"values":[{"t":465,"e":525,"v":0.55}]},"mark":{"type":"rule","color":"black","strokeWidth":1.3},"encoding":{"x2":{"field":"e"}}}
 ]},
{"data":{"name":"b3co2"},
 "encoding":{"x":{"field":"t","type":"quantitative","scale":{"domain":[0,13.75],"range":[116,336],"nice":false,"zero":false},"axis":null},
  "y":{"field":"v","type":"quantitative","scale":{"domain":[0,10],"range":[627,568],"nice":false,"zero":false},"axis":{"orient":"left","offset":-116,"values":[0,10],"tickSize":3,"labelPadding":2,"labelFontSize":12.5,"title":null}}},
 "layer":[
  {"mark":{"type":"area","color":"black"},"encoding":{"y2":{"field":"w"}}},
  {"data":{"values":[{"t":-2.04,"v":5.85,"label":"CO₂"},{"t":-2.2,"v":2.88,"label":"(%)"}]},"mark":{"type":"text","fontSize":12.5},"encoding":{"text":{"field":"label"}}},
  {"data":{"values":[{"t":-7.06,"v":7.12,"label":"B"}]},"mark":{"type":"text","fontSize":27,"align":"left","baseline":"alphabetic"},"encoding":{"text":{"field":"label"}}},
  {"data":{"values":[{"t":-5.8,"v":7.12,"label":"3"}]},"mark":{"type":"text","fontSize":18,"align":"left","baseline":"alphabetic"},"encoding":{"text":{"field":"label"}}}
 ]},
{"data":{"name":"b3spk"},
 "encoding":{"x":{"field":"t","type":"quantitative","scale":{"domain":[0,13.75],"range":[116,336],"nice":false,"zero":false},"axis":null},
  "y":{"field":"v","type":"quantitative","scale":{"domain":[0,40],"range":[693.3,644.3],"nice":false,"zero":false},"axis":{"orient":"left","offset":-116,"values":[0,10,20,30,40],"labelExpr":"datum.value === 0 || datum.value === 40 ? datum.label : ''","tickSize":3,"labelPadding":2,"labelFontSize":12.5,"title":"spikes / 5 s","titlePadding":6}}},
 "layer":[
  {"mark":{"type":"area","color":"black","interpolate":"step-after"},"encoding":{"y2":{"datum":0}}},
  {"data":{"values":[{"t":1.25,"e":2.02,"v":50.9},{"t":5.1,"e":5.92,"v":50.9},{"t":10.17,"e":10.94,"v":50.9}]},"mark":{"type":"rule","color":"black","strokeWidth":1.3},"encoding":{"x2":{"field":"e"}}},
  {"data":{"values":[{"t":1.53,"v":58.6,"label":"5-HT"},{"t":12.81,"v":-17.3,"label":"1 min"}]},"mark":{"type":"text","fontSize":12.5},"encoding":{"text":{"field":"label"}}},
  {"data":{"values":[{"t":12.5,"e":13.5,"v":-8.7}]},"mark":{"type":"rule","color":"black","strokeWidth":1.3},"encoding":{"x2":{"field":"e"}}}
 ]},
{"data":{"name":"b4pts"},
 "encoding":{"x":{"field":"t","type":"quantitative","scale":{"domain":[3.56,8.5],"range":[494,652],"nice":false,"zero":false},"axis":{"orient":"bottom","offset":-34,"values":[4,5,6,7,8],"labelExpr":"datum.value % 2 === 0 ? datum.label : ''","tickSize":4,"labelPadding":2,"labelFontSize":13,"title":"End-exp CO₂ (%)","titleFontSize":13,"titlePadding":3}},
  "y":{"field":"v","type":"quantitative","scale":{"domain":[0,8.73],"range":[686,566],"nice":false,"zero":false},"axis":{"orient":"left","offset":-494,"values":[0,2,4,6,8],"labelExpr":"datum.value % 4 === 0 ? datum.label : ''","tickSize":4,"labelPadding":3,"labelFontSize":13,"title":"Firing rate (Hz)","titleFontSize":13,"titlePadding":6}}},
 "layer":[
  {"data":{"name":"b4fit"},"mark":{"type":"line","color":"black","strokeWidth":1},"encoding":{"detail":{"field":"s","type":"nominal"}}},
  {"mark":{"type":"point","filled":true,"stroke":"black","strokeWidth":1,"size":54,"opacity":1},"encoding":{"fill":{"field":"s","type":"nominal","scale":{"domain":["plus 5-HT","minus 5-HT"],"range":["white","black"]},"legend":{"orient":"none","legendX":578,"legendY":651,"title":null,"symbolType":"circle","symbolSize":42,"symbolStrokeColor":"black","symbolStrokeWidth":1,"labelFontSize":12.5,"rowPadding":1,"labelOffset":4,"padding":0}}}},
  {"data":{"values":[{"t":0.78,"v":7.35,"label":"B"}]},"mark":{"type":"text","fontSize":27,"align":"left","baseline":"alphabetic"},"encoding":{"text":{"field":"label"}}},
  {"data":{"values":[{"t":1.42,"v":7.35,"label":"4"}]},"mark":{"type":"text","fontSize":18,"align":"left","baseline":"alphabetic"},"encoding":{"text":{"field":"label"}}}
 ]}
]
}
